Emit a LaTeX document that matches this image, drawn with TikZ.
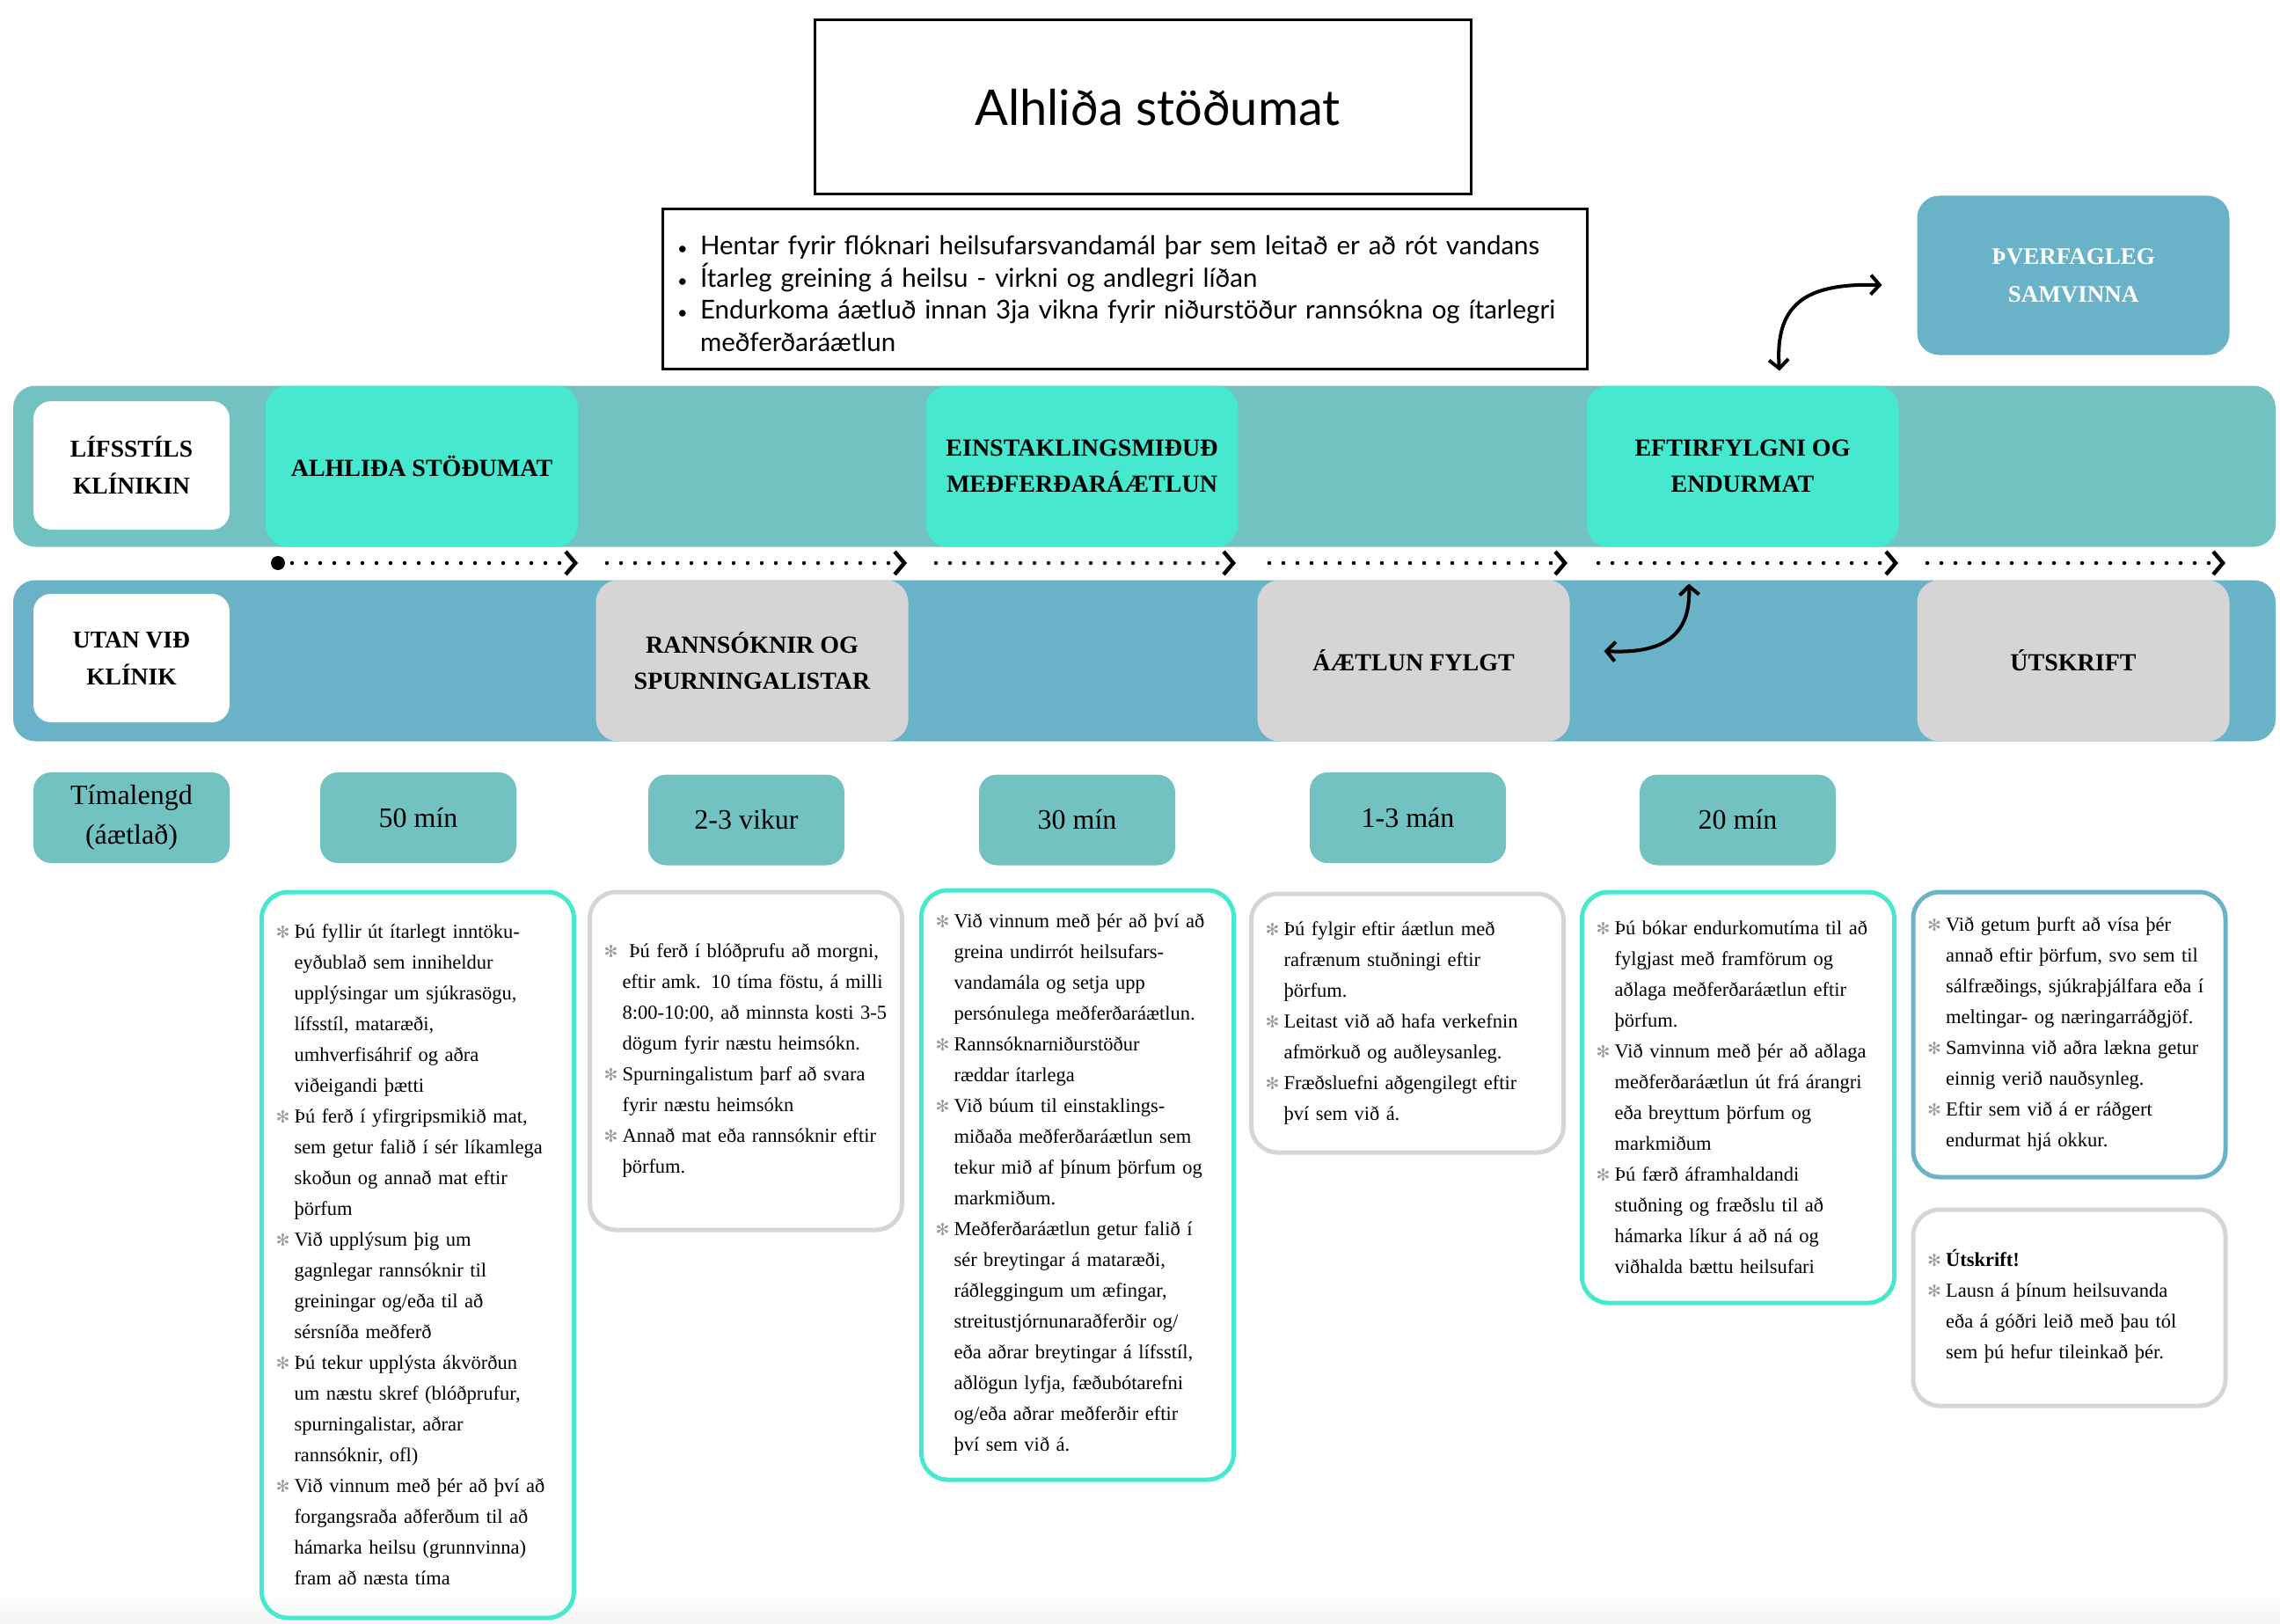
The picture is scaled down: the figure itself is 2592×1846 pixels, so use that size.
\documentclass[tikz,border=0pt]{standalone}
\usepackage{fontspec}
\setmainfont{Liberation Serif}
\newfontfamily\sansfont{Lato}
\newfontfamily\symbolfont{DejaVu Sans}
\usetikzlibrary{positioning,arrows.meta}

\definecolor{laneteal}{HTML}{72C2C1}
\definecolor{laneblue}{HTML}{6AB2C8}
\definecolor{stagecyan}{HTML}{46E8CF}
\definecolor{stagegray}{HTML}{D5D5D5}
\definecolor{bulletgray}{HTML}{9C9C9C}

\hyphenpenalty=10000
\exhyphenpenalty=10000

% bullets
\newcommand{\astbul}{\makebox[21pt][l]{\textcolor{bulletgray}{\symbolfont\fontsize{19}{19}\selectfont ✻}}}
\newcommand{\itm}{\par\noindent\hangindent=21pt\hangafter=1\relax\astbul}
\newcommand{\dotitem}{\par\noindent\hangindent=26pt\hangafter=1\relax\makebox[26pt][l]{\fontsize{20}{20}\selectfont\textbullet}}
\newcommand{\boxend}[1][20pt]{\par\vspace{#1}\hrule height0pt width0pt}

\begin{document}
\begin{tikzpicture}[x=1pt,y=-1pt,
  every node/.style={inner sep=0pt,outer sep=0pt},
  lane/.style={rounded corners=25pt,minimum width=2572,minimum height=183},
  lanelabel/.style={fill=white,rounded corners=20pt,minimum width=223,minimum height=146,
    align=center,font=\fontsize{27.5}{42}\selectfont\bfseries},
  stage/.style={rounded corners=25pt,minimum width=355,minimum height=183,
    align=center,font=\fontsize{28}{41.5}\selectfont\bfseries},
  duration/.style={fill=laneteal,rounded corners=20pt,minimum width=223,minimum height=103,
    align=center,font=\fontsize{32}{45}\selectfont},
  detail/.style={draw,line width=5pt,rounded corners=30pt,text width=323pt,inner xsep=16pt,
    align=left,font=\fontsize{22.5}{35}\selectfont},
  flow/.style={line width=4.5pt,line cap=round,dash pattern=on 0pt off 16pt,
    -{Straight Barb[length=11pt,width=26pt,line width=4.5pt]}},
  loopline/.style={line width=4pt,
    {Straight Barb[length=10pt,width=22pt,line width=4pt]}-{Straight Barb[length=10pt,width=22pt,line width=4pt]}}]

  \useasboundingbox (0,0) rectangle (2592,1846);
  \shade[top color=white,bottom color=black!4] (0,1810) rectangle (2592,1846);

  % title and summary
  \node[draw,line width=3pt,minimum width=746,minimum height=198,font=\sansfont\fontsize{56}{66}\selectfont]
    (title) at (1299,122) {\hspace*{34pt}Alhliða stöðumat};
  \node[draw,line width=3pt,text width=1017pt,inner xsep=17pt,minimum height=181,align=left,
    font=\sansfont\fontsize{29.5}{36.6}\selectfont] (summary) at (1278.5,328.5) {%
    \dotitem Hentar fyrir flóknari heilsufarsvandamál þar sem leitað er að rót vandans
    \dotitem Ítarleg greining á heilsu - virkni og andlegri líðan
    \dotitem Endurkoma áætluð innan 3ja vikna fyrir niðurstöður rannsókna og ítarlegri\newline meðferðaráætlun\boxend[4pt]};

  % lanes
  \node[lane,fill=laneteal] (clinic) at (1301,530) {};
  \node[lane,fill=laneblue] (outside) at (1301,751) {};
  \node[lanelabel] (clinlab) at (149.5,529) {LÍFSSTÍLS\\KLÍNIKIN};
  \node[lanelabel] (outlab) at (149.5,748) {UTAN VIÐ\\KLÍNIK};

  % stages
  \node[stage,fill=stagecyan] (assess) at (479.5,530) {ALHLIÐA STÖÐUMAT};
  \node[stage,fill=stagegray] (tests) at (855,751) {RANNSÓKNIR OG\\SPURNINGALISTAR};
  \node[stage,fill=stagecyan] (plan) at (1230,530) {EINSTAKLINGSMIÐUÐ\\MEÐFERÐARÁÆTLUN};
  \node[stage,fill=stagegray] (follow) at (1607,751) {ÁÆTLUN FYLGT};
  \node[stage,fill=stagecyan] (review) at (1981,530) {EFTIRFYLGNI OG\\ENDURMAT};
  \node[stage,fill=stagegray] (discharge) at (2357,751) {ÚTSKRIFT};
  \node[stage,fill=laneblue,text=white,minimum height=181,font=\fontsize{27}{43}\selectfont\bfseries]
    (team) at (2357,313) {ÞVERFAGLEG\\SAMVINNA};

  % timeline
  \foreach \a/\b [count=\i] in {316/657,690/1031,1064/1405,1443/1782,1817/2158,2191/2530}{
    \coordinate (s\i) at (\a,640);
    \coordinate (e\i) at (\b,640);
    \draw[flow] (s\i) -- (e\i);
  }
  \fill (s1) circle[radius=8];

  % curved links
  \coordinate (rv1) at ([xshift=42pt,yshift=17pt]review.north);
  \coordinate (tm1) at ([xshift=-40pt,yshift=-11pt]team.west);
  \draw[loopline] (rv1) .. controls (2017,340) and (2060,322) .. (tm1);
  \coordinate (fl1) at ([xshift=39pt,yshift=11pt]follow.east);
  \coordinate (rv2) at ([xshift=-61pt,yshift=-42pt]review.south);
  \draw[loopline] (fl1) .. controls (1900,744) and (1922,715) .. (rv2);

  % durations
  \node[duration] (dlab) at (149.5,929.5) {Tímalengd\\(áætlað)};
  \node[duration] (d1) at (475.5,929.5) {50 mín};
  \node[duration] (d2) at (848.5,932) {2-3 vikur};
  \node[duration] (d3) at (1224.5,932) {30 mín};
  \node[duration] (d4) at (1600.5,929.5) {1-3 mán};
  \node[duration] (d5) at (1975.5,932) {20 mín};

  % details
  \node[detail,draw=stagecyan,minimum height=825] (t1) at (475,1426.5) {%
    \itm Þú fyllir út ítarlegt inntöku-\newline eyðublað sem inniheldur\newline
      upplýsingar um sjúkrasögu,\newline lífsstíl, mataræði,\newline
      umhverfisáhrif og aðra\newline viðeigandi þætti
    \itm Þú ferð í yfirgripsmikið mat,\newline sem getur falið í sér líkamlega\newline
      skoðun og annað mat eftir\newline þörfum
    \itm Við upplýsum þig um\newline gagnlegar rannsóknir til\newline
      greiningar og/eða til að\newline sérsníða meðferð
    \itm Þú tekur upplýsta ákvörðun\newline um næstu skref (blóðprufur,\newline
      spurningalistar, aðrar\newline rannsóknir, ofl)
    \itm Við vinnum með þér að því að\newline forgangsraða aðferðum til að\newline
      hámarka heilsu (grunnvinna)\newline fram að næsta tíma\boxend};
  \node[detail,draw=stagegray,minimum height=384] (t2) at (848,1206) {%
    \itm \ Þú ferð í blóðprufu að morgni,\newline eftir amk. 10 tíma föstu, á milli\newline
      8:00-10:00, að minnsta kosti 3-5\newline dögum fyrir næstu heimsókn.
    \itm Spurningalistum þarf að svara\newline fyrir næstu heimsókn
    \itm Annað mat eða rannsóknir eftir\newline þörfum.\boxend};
  \node[detail,draw=stagecyan,minimum height=670] (t3) at (1225,1347) {%
    \itm Við vinnum með þér að því að\newline greina undirrót heilsufars-\newline
      vandamála og setja upp\newline persónulega meðferðaráætlun.
    \itm Rannsóknarniðurstöður\newline ræddar ítarlega
    \itm Við búum til einstaklings-\newline miðaða meðferðaráætlun sem\newline
      tekur mið af þínum þörfum og\newline markmiðum.
    \itm Meðferðaráætlun getur falið í\newline sér breytingar á mataræði,\newline
      ráðleggingum um æfingar,\newline streitustjórnunaraðferðir og/\newline
      eða aðrar breytingar á lífsstíl,\newline aðlögun lyfja, fæðubótarefni\newline
      og/eða aðrar meðferðir eftir\newline því sem við á.\boxend};
  \node[detail,draw=stagegray,minimum height=294] (t4) at (1600,1163) {%
    \itm Þú fylgir eftir áætlun með\newline rafrænum stuðningi eftir\newline þörfum.
    \itm Leitast við að hafa verkefnin\newline afmörkuð og auðleysanleg.
    \itm Fræðsluefni aðgengilegt eftir\newline því sem við á.\boxend};
  \node[detail,draw=stagecyan,minimum height=467] (t5) at (1976,1247.5) {%
    \itm Þú bókar endurkomutíma til að\newline fylgjast með framförum og\newline
      aðlaga meðferðaráætlun eftir\newline þörfum.
    \itm Við vinnum með þér að aðlaga\newline meðferðaráætlun út frá árangri\newline
      eða breyttum þörfum og\newline markmiðum
    \itm Þú færð áframhaldandi\newline stuðning og fræðslu til að\newline
      hámarka líkur á að ná og\newline viðhalda bættu heilsufari\boxend};
  \node[detail,draw=laneblue,minimum height=324] (t6) at (2352.5,1176) {%
    \itm Við getum þurft að vísa þér\newline annað eftir þörfum, svo sem til\newline
      sálfræðings, sjúkraþjálfara eða í\newline meltingar- og næringarráðgjöf.
    \itm Samvinna við aðra lækna getur\newline einnig verið nauðsynleg.
    \itm Eftir sem við á er ráðgert\newline endurmat hjá okkur.\boxend};
  \node[detail,draw=stagegray,minimum height=223] (t7) at (2352.5,1486.5) {%
    \itm \textbf{Útskrift!}
    \itm Lausn á þínum heilsuvanda\newline eða á góðri leið með þau tól\newline
      sem þú hefur tileinkað þér.\boxend};
\end{tikzpicture}
\end{document}
